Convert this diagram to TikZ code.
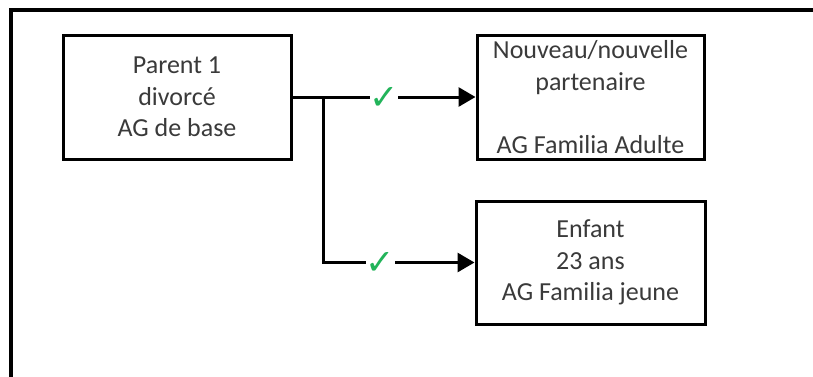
\documentclass[tikz,border=0pt]{standalone}
\usepackage{fontspec}
\setmainfont{Carlito}
\newfontfamily\symfont{DejaVu Sans}
\usetikzlibrary{arrows.meta}
\definecolor{txt}{HTML}{3A3A3A}
\definecolor{chkgreen}{HTML}{22B45A}
\tikzset{
  x=1pt, y=-1pt,
  box/.style={draw=black, line width=3pt, fill=white, rectangle, inner sep=0pt,
    text=txt, align=center, font=\fontsize{26}{31.5}\selectfont},
  conn/.style={draw=black, line width=3pt},
  arr/.style={conn, -{Triangle[length=17pt,width=19pt]}},
  chk/.style={fill=white, inner xsep=-0.5pt, inner ysep=0pt, text=chkgreen, font=\symfont\fontsize{35}{35}\selectfont},
  frame/.style={draw=black, line width=4pt}
}
\begin{document}
\begin{tikzpicture}
\useasboundingbox (0,0) rectangle (813,376);
\draw[frame] (10.5,378) -- (10.5,10) -- (815,10);
\node[box, minimum width=228pt, minimum height=124pt] (p) at (177,97) {Parent 1\\divorcé\\AG de base};
\node[box, minimum width=227pt, minimum height=124pt] (n) at (590.5,97) {Nouveau/nouvelle\\partenaire\\\strut\\AG Familia Adulte};
\node[box, minimum width=229pt, minimum height=123pt] (e) at (590.5,262.5) {Enfant\\23 ans\\AG Familia jeune};
\coordinate (j) at (323,97);
\draw[arr] (p.east) -- node[chk, yshift=-1pt]{✓} (n.west);
\draw[arr] ([yshift=-1.5pt]j) |- node[chk, pos=0.69, yshift=-1pt]{✓} (e.west);
\end{tikzpicture}
\end{document}
